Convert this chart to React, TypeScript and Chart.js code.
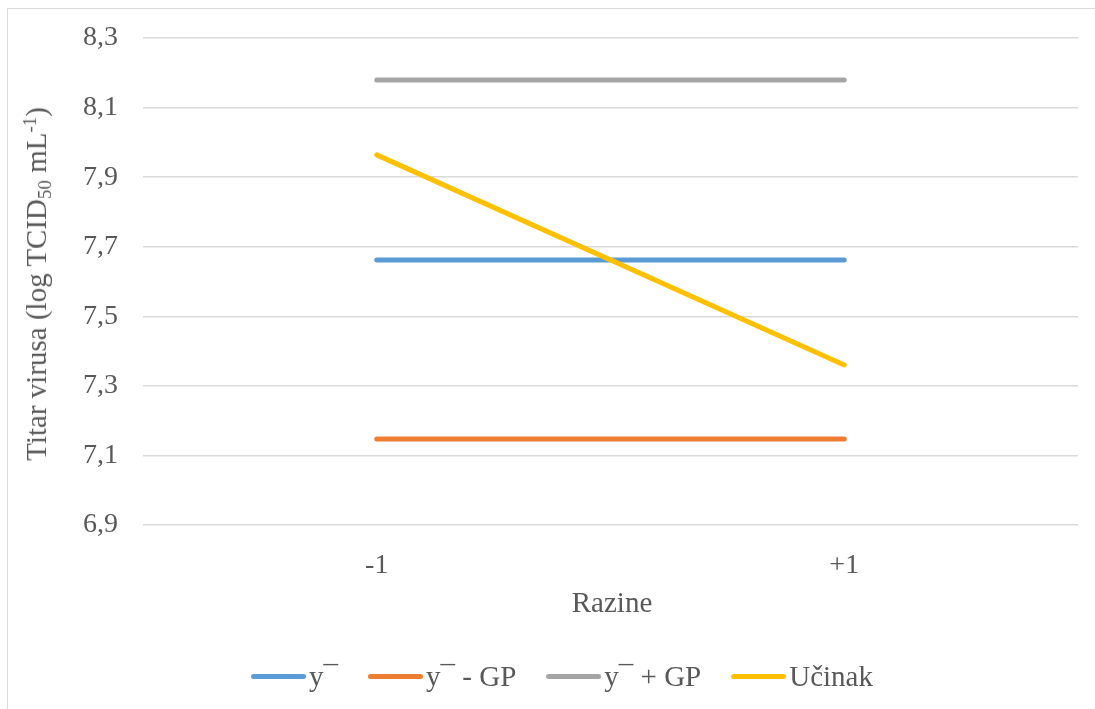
import React, { useEffect, useRef } from "react";
import { Chart, registerables } from "chart.js";

Chart.register(...registerables);

// ---- Data ----
const categories = ["-1", "+1"];
const seriesNames = ["y¯", "y¯ - GP", "y¯ + GP", "Učinak"];
const yMean = [7.662, 7.662];
const yMinusGP = [7.147, 7.147];
const yPlusGP = [8.179, 8.179];
const ucinak = [7.964, 7.36];
const seriesColors = ["#5B9BD5", "#ED7D31", "#A5A5A5", "#FFC000"];
const yMin = 6.9;
const yMax = 8.3;
const yStep = 0.2;
const xTitle = "Razine";

const FONT = "'Liberation Serif', 'Times New Roman', serif";
const TEXT = "#595959";

export default function App() {
  const canvasRef = useRef<HTMLCanvasElement | null>(null);

  useEffect(() => {
    if (!canvasRef.current) return;
    const seriesValues = [yMean, yMinusGP, yPlusGP, ucinak];
    const chart = new Chart(canvasRef.current, {
      type: "line",
      data: {
        labels: categories,
        datasets: seriesNames.map((name, i) => ({
          label: name,
          data: seriesValues[i],
          borderColor: seriesColors[i],
          backgroundColor: seriesColors[i],
          borderWidth: 5,
          borderCapStyle: "round" as const,
          pointRadius: 0,
          pointHoverRadius: 0,
          tension: 0,
          order: seriesNames.length - i,
        })),
      },
      options: {
        responsive: false,
        animation: false,
        events: [],
        layout: { padding: { left: 0, right: 17, top: 38, bottom: 134 } },
        plugins: {
          legend: { display: false },
          tooltip: { enabled: false },
          title: { display: false },
        },
        scales: {
          x: {
            type: "category",
            offset: true,
            grid: { display: false, drawTicks: false },
            border: { display: false },
            ticks: {
              color: TEXT,
              font: { family: FONT, size: 28 },
              padding: 24,
              maxRotation: 0,
            },
            afterFit: (scale: any) => {
              scale.height = 50;
              scale.paddingLeft = 0;
              scale.paddingRight = 0;
            },
          },
          y: {
            type: "linear",
            min: yMin,
            max: yMax,
            grid: { color: "#d9d9d9", lineWidth: 1.5, drawTicks: false },
            border: { display: false },
            ticks: {
              stepSize: yStep,
              color: TEXT,
              font: { family: FONT, size: 28 },
              padding: 25,
              callback: (v: any) => Number(v).toFixed(1).replace(".", ","),
            },
            afterFit: (scale: any) => {
              scale.width = 143;
              scale.paddingTop = 0;
              scale.paddingBottom = 0;
            },
          },
        },
      },
    });
    return () => chart.destroy();
  }, []);

  return (
    <div
      style={{
        position: "fixed",
        left: 0,
        top: 0,
        width: 1095,
        height: 709,
        overflow: "hidden",
        background: "#fff",
        fontFamily: FONT,
        color: TEXT,
      }}
    >
      <div
        style={{
          position: "absolute",
          left: 7,
          top: 8,
          width: 1200,
          height: 800,
          border: "1.5px solid #d9d9d9",
          boxSizing: "border-box",
        }}
      />
      <canvas
        ref={canvasRef}
        width={1095}
        height={709}
        style={{ position: "absolute", left: 0, top: 0, width: 1095, height: 709 }}
      />
      {/* Y axis title */}
      <div
        style={{
          position: "absolute",
          left: 36,
          top: 284,
          transform: "translate(-50%, -50%) rotate(-90deg)",
          whiteSpace: "nowrap",
          fontSize: 29,
          lineHeight: "34px",
        }}
      >
        Titar virusa (log TCID
        <sub style={{ fontSize: "0.65em", lineHeight: 0, verticalAlign: "-0.25em" }}>50</sub> mL
        <sup style={{ fontSize: "0.65em", lineHeight: 0, verticalAlign: "0.55em" }}>-1</sup>)
      </div>
      {/* X axis title */}
      <div
        style={{
          position: "absolute",
          left: 612,
          top: 602,
          transform: "translate(-50%, -50%)",
          whiteSpace: "nowrap",
          fontSize: 29,
          lineHeight: "34px",
        }}
      >
        {xTitle}
      </div>
      {/* Legend */}
      <div
        style={{
          position: "absolute",
          left: 562,
          top: 676,
          transform: "translate(-50%, -50%)",
          display: "flex",
          alignItems: "center",
          gap: 30,
          whiteSpace: "nowrap",
          fontSize: 29,
          lineHeight: "32px",
        }}
      >
        {seriesNames.map((name, i) => (
          <div key={name} style={{ display: "flex", alignItems: "center", gap: 3 }}>
            <div
              style={{
                width: 55,
                height: 5,
                borderRadius: 3,
                background: seriesColors[i],
              }}
            />
            <span>{name}</span>
          </div>
        ))}
      </div>
    </div>
  );
}
